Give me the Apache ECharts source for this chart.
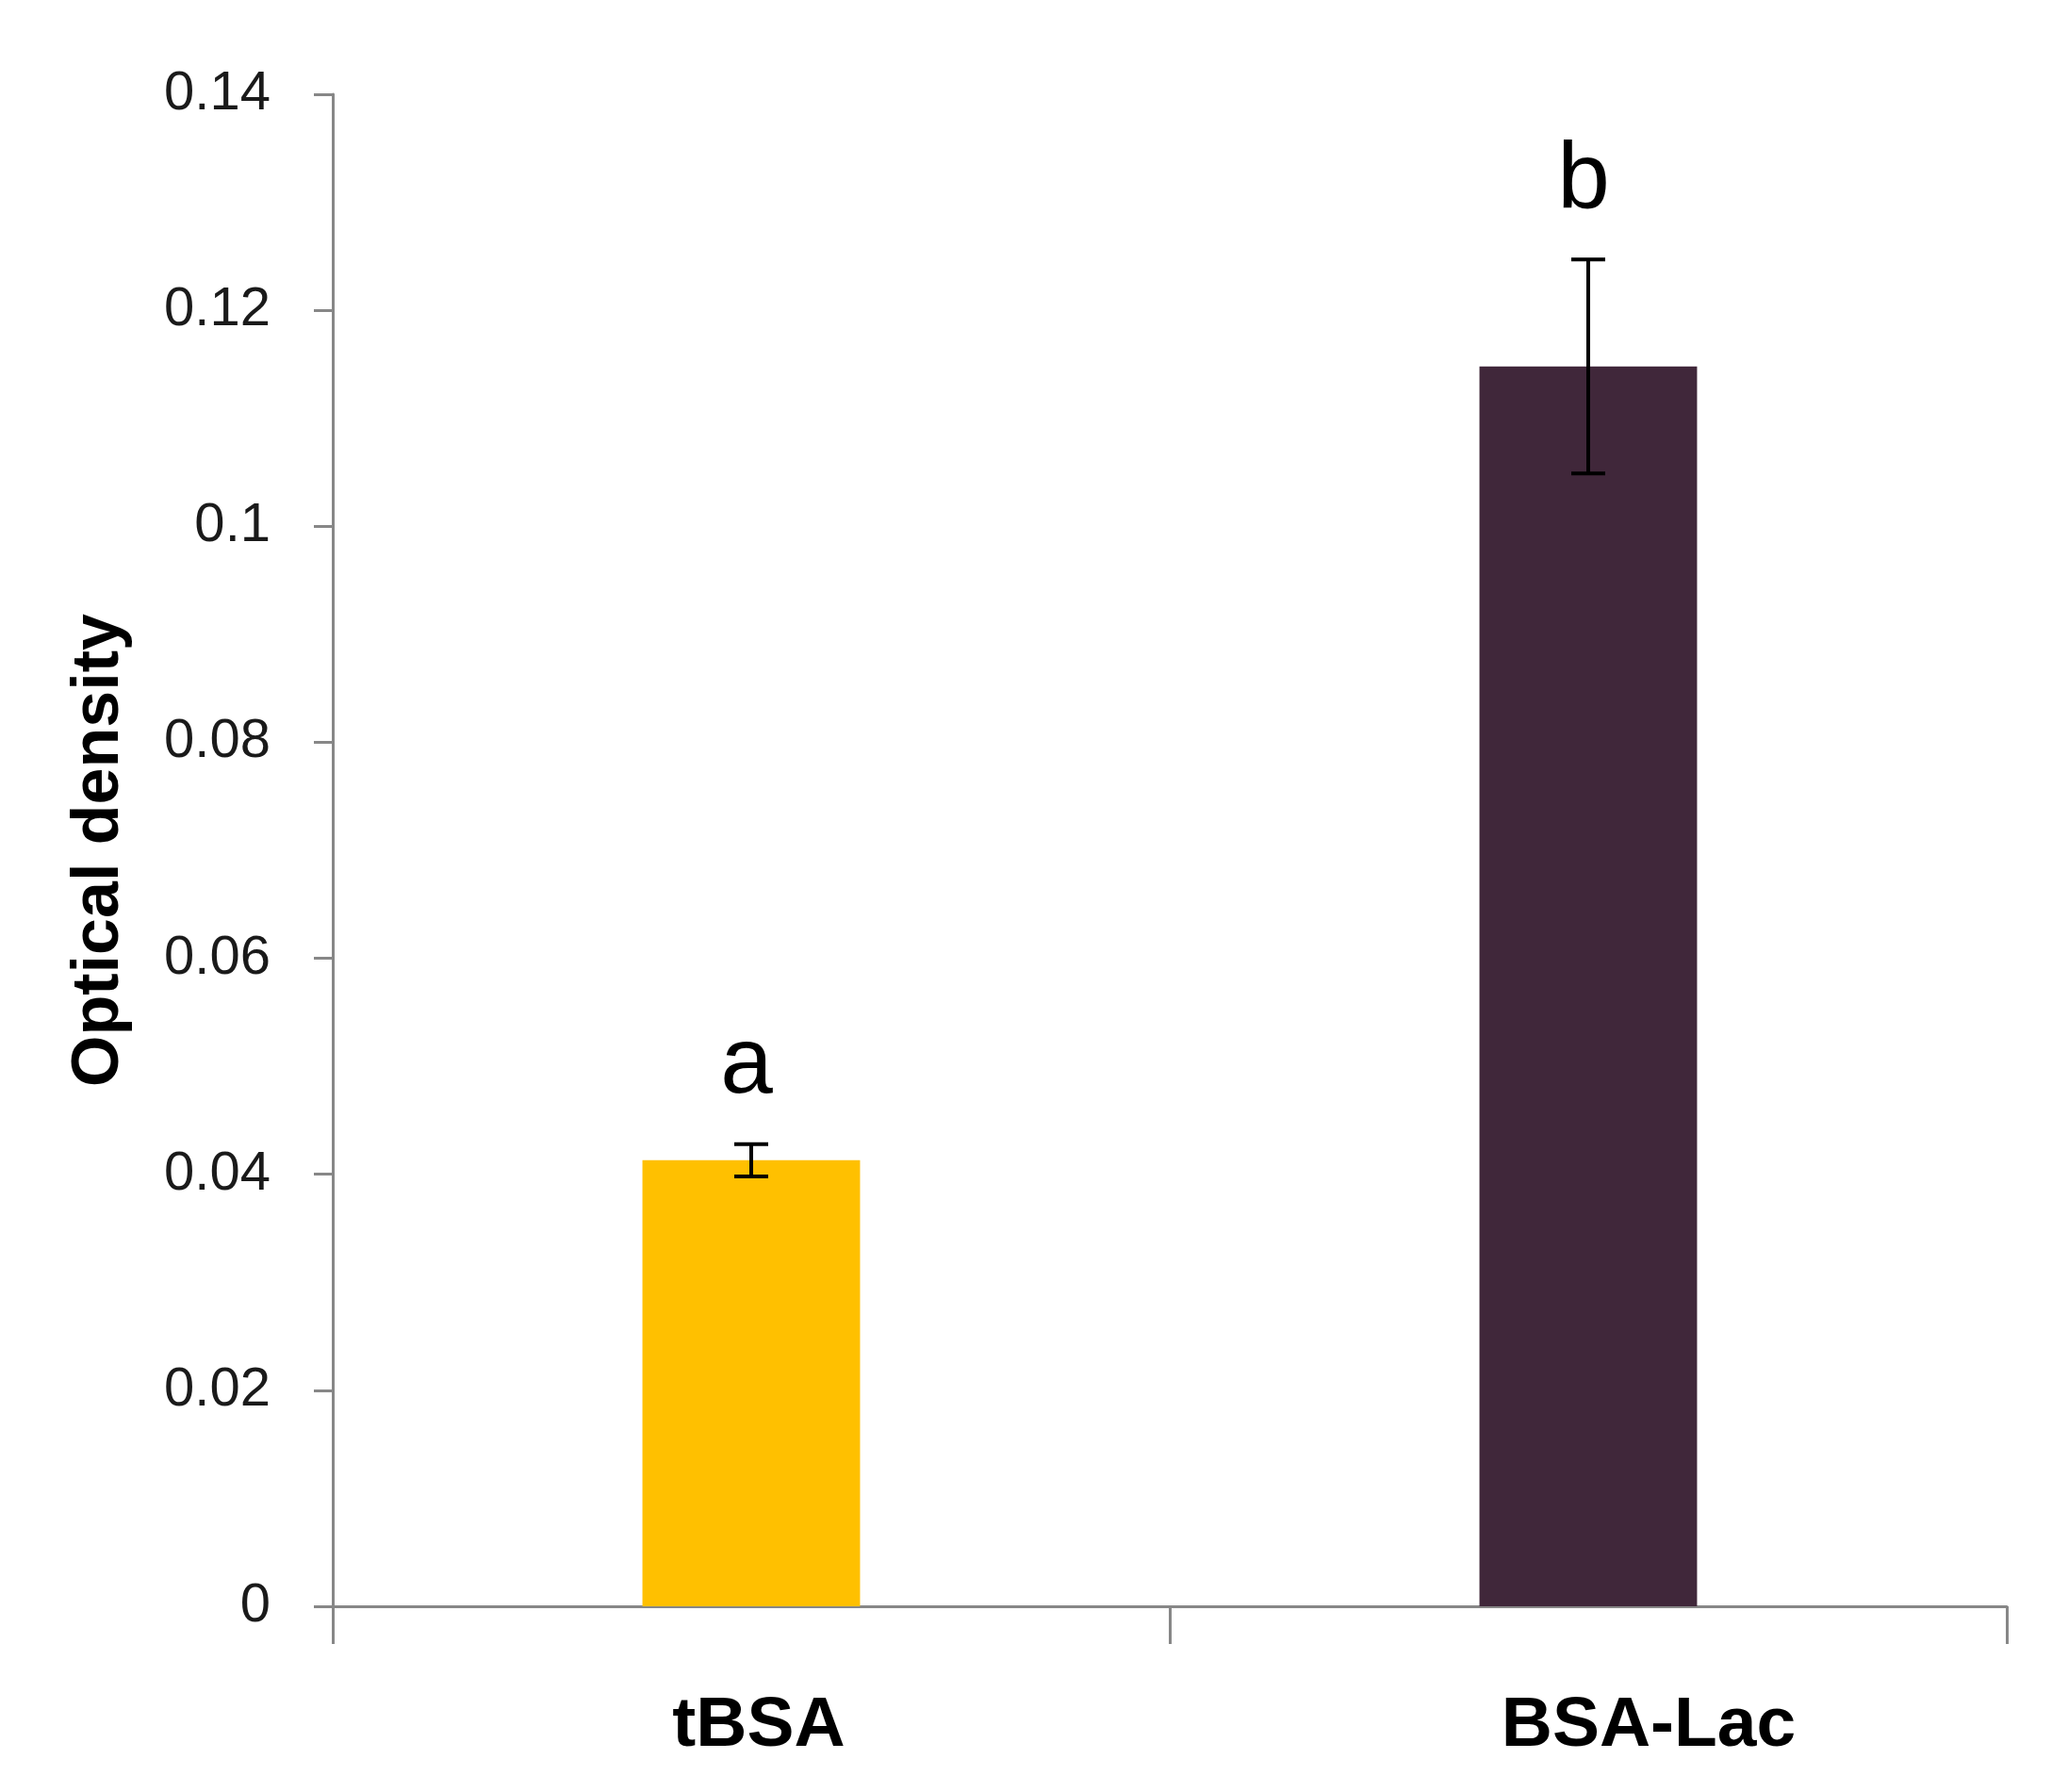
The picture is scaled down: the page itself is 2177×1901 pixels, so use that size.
<!DOCTYPE html>
<html>
<head>
<meta charset="utf-8">
<script src="https://cdn.jsdelivr.net/npm/echarts@6/dist/echarts.min.js"></script>
<style>
  html, body { margin: 0; padding: 0; background: #fff; }
  #chart { width: 2177px; height: 1901px; }
</style>
</head>
<body>
<div id="chart"></div>
<script>
// data
const categories = ['tBSA', 'BSA-Lac'];
const means = [0.0413, 0.1148];
const errors = [0.0015, 0.0099];
const letters = ['a', 'b'];
const barColors = ['#FFC000', '#40273A'];
const yTicks = [0, 0.02, 0.04, 0.06, 0.08, 0.1, 0.12, 0.14];

const chart = echarts.init(document.getElementById('chart'));

const axisGray = '#878787';

// error bar rows: [index, low, high]
const errData = means.map((m, i) => [i, m - errors[i], m + errors[i]]);

// category label font; labels sit a little right of the bar centre in the original
const catFont = { color: '#000', fontFamily: 'Liberation Sans', fontWeight: 'bold', fontSize: 75 };

const options = {
  animation: false,
  backgroundColor: '#fff',
  grid: { left: 353, right: 48, top: 100, bottom: 197 },
  xAxis: {
    type: 'category',
    data: categories,
    axisLine: { lineStyle: { color: axisGray, width: 3 } },
    axisTick: { show: true, length: 40, lineStyle: { color: axisGray, width: 3 } },
    axisLabel: Object.assign({
      margin: 90,
      formatter: (val, idx) => `{c${idx}|${val}}`,
      rich: {
        c0: Object.assign({ padding: [0, 0, 0, 16] }, catFont),
        c1: Object.assign({ padding: [0, 0, 0, 128] }, catFont)
      }
    }, catFont)
  },
  yAxis: {
    type: 'value',
    min: yTicks[0],
    max: yTicks[yTicks.length - 1],
    interval: 0.02,
    name: 'Optical density',
    nameLocation: 'middle',
    nameGap: 212,
    nameRotate: 90,
    nameTextStyle: {
      color: '#000',
      fontFamily: 'Liberation Sans',
      fontWeight: 'bold',
      fontSize: 70
    },
    splitLine: { show: false },
    axisLine: { show: true, lineStyle: { color: axisGray, width: 3 } },
    axisTick: { show: true, length: 20, lineStyle: { color: axisGray, width: 3 } },
    axisLabel: {
      margin: 66,
      color: '#1a1a1a',
      fontFamily: 'Liberation Sans',
      fontSize: 58
    }
  },
  series: [
    {
      type: 'bar',
      barWidth: '26%',
      data: means.map((v, i) => ({ value: v, itemStyle: { color: barColors[i] } }))
    },
    {
      // error bars + significance letters
      type: 'custom',
      data: errData,
      z: 10,
      renderItem: function(params, api) {
        const x = api.value(0);
        const lo = api.coord([x, api.value(1)]);
        const hi = api.coord([x, api.value(2)]);
        const half = 18;
        const st = { stroke: '#000', lineWidth: 4 };
        return {
          type: 'group',
          children: [
            { type: 'line', shape: { x1: hi[0], y1: hi[1], x2: lo[0], y2: lo[1] }, style: st },
            { type: 'line', shape: { x1: hi[0] - half, y1: hi[1], x2: hi[0] + half, y2: hi[1] }, style: st },
            { type: 'line', shape: { x1: lo[0] - half, y1: lo[1], x2: lo[0] + half, y2: lo[1] }, style: st },
            {
              type: 'text',
              style: {
                text: letters[params.dataIndex],
                x: hi[0] - 5,
                y: hi[1] - 32,
                textAlign: 'center',
                textVerticalAlign: 'bottom',
                font: '100px "Liberation Sans"',
                fill: '#000'
              }
            }
          ]
        };
      }
    }
  ]
};

chart.setOption(options);
</script>
</body>
</html>
